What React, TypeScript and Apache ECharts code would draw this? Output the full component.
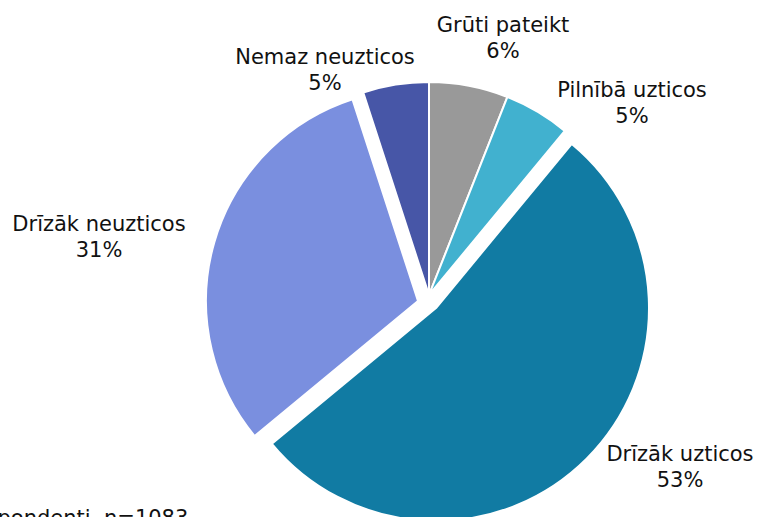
import React, { useEffect, useRef } from "react";
import * as echarts from "echarts";

const categories = ["Grūti pateikt", "Pilnībā uzticos", "Drīzāk uzticos", "Drīzāk neuzticos", "Nemaz neuzticos"];
const values = [6, 5, 53, 31, 5];
const colors = ["#999999", "#41b1cf", "#117ba3", "#7a8fdf", "#4756a7"];
const note = "Respondenti, n=1083";

// which series each slice belongs to (exploded slices drawn in their own series)
const sliceGroup = [0, 0, 1, 2, 0];
const groupCenters = [[429, 295], [436, 308], [418, 301]];
const groupRadius = [213, 213, 212];
const labelPos = [[503, 38], [632, 103], [680, 467], [99, 237], [325, 70]];

const FONT = "'DejaVu Sans', Verdana, sans-serif";

export default function App() {
  const ref = useRef<HTMLDivElement>(null);
  useEffect(() => {
    if (!ref.current) return;
    const chart = echarts.init(ref.current, undefined, { renderer: "svg" });
    const series = groupCenters.map((c, g) => ({
      type: "pie",
      center: c,
      radius: groupRadius[g],
      startAngle: 90,
      clockwise: true,
      silent: true,
      z: 2,
      data: categories.map((name, i) => {
        const visible = sliceGroup[i] === g;
        return {
          name,
          value: values[i],
          itemStyle: visible
            ? { color: colors[i], borderColor: "#ffffff", borderWidth: 2 }
            : { color: "rgba(0,0,0,0)", borderWidth: 0 },
          label: { show: visible },
          labelLine: { show: false },
        };
      }),
      label: {
        position: "inside",
        formatter: "{b}\n{c}%",
        fontFamily: FONT,
        fontSize: 21,
        lineHeight: 26,
        color: "#111111",
        align: "center",
        overflow: "none",
      },
      labelLine: { show: false },
      labelLayout: (p: any) => {
        const pos = labelPos[p.dataIndex];
        return { x: pos[0], y: pos[1], align: "center", verticalAlign: "middle", hideOverlap: false };
      },
    }));
    chart.setOption({
      animation: false,
      backgroundColor: "#ffffff",
      series,
      graphic: [
        {
          type: "text",
          left: -40,
          top: 507,
          style: { text: note, fontFamily: FONT, fontSize: 21, fill: "#111111" },
        },
      ],
    });
    return () => chart.dispose();
  }, []);
  return <div ref={ref} style={{ position: "absolute", left: 0, top: 0, width: 758, height: 517 }} />;
}
